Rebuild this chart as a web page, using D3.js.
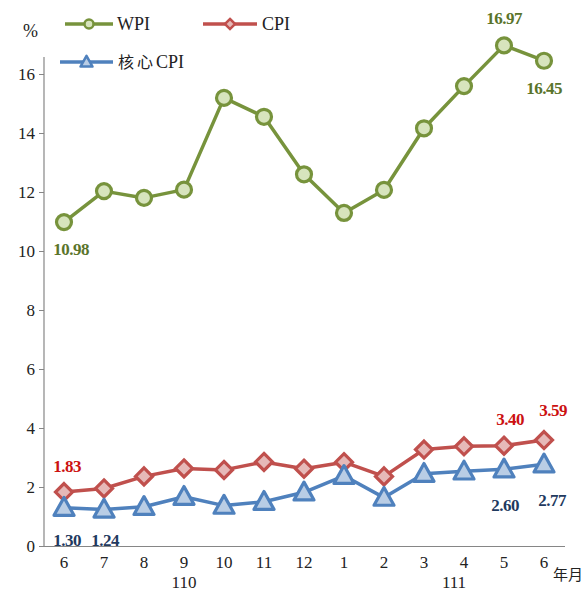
<!DOCTYPE html>
<html><head><meta charset="utf-8">
<script src="https://cdn.jsdelivr.net/npm/d3@7"></script>
<style>
html,body{margin:0;padding:0;background:#fff;}
svg{display:block;font-family:"Liberation Serif","Times New Roman",serif;}
</style>
</head><body>
<svg id="c" width="587" height="592"></svg>
<script>
const months = ["6","7","8","9","10","11","12","1","2","3","4","5","6"];
const years = [{label:"110", from:0, to:6},{label:"111", from:7, to:12}];
const wpi  = [10.98,12.03,11.80,12.08,15.19,14.55,12.60,11.29,12.07,14.16,15.59,16.97,16.45];
const cpi  = [1.83,1.95,2.36,2.63,2.58,2.85,2.62,2.84,2.36,3.27,3.38,3.40,3.59];
const core = [1.30,1.24,1.33,1.67,1.37,1.50,1.82,2.38,1.64,2.45,2.53,2.60,2.77];
const yTicks = [0,2,4,6,8,10,12,14,16];
const wpiLabels  = [{i:0,dx:7,dy:33},{i:11,dx:0,dy:-21},{i:12,dx:0,dy:33}];
const cpiLabels  = [{i:0,dx:3,dy:-20},{i:11,dx:6,dy:-21},{i:12,dx:9,dy:-24}];
const coreLabels = [{i:0,dx:3,dy:38},{i:1,dx:1,dy:37},{i:11,dx:1,dy:42},{i:12,dx:8,dy:42}];

const svg = d3.select("#c");
const x = d3.scaleBand().domain(d3.range(months.length)).range([44,564]).paddingInner(0).paddingOuter(0);
const cx = i => x(i) + x.bandwidth()/2;
const y = d3.scaleLinear().domain([0,16]).range([546,74]);

// axes
const yAxis = d3.axisLeft(y).tickValues(yTicks).tickSize(5).tickPadding(4).tickFormat(d3.format("d"));
const gy = svg.append("g").attr("transform","translate(44,0)").call(yAxis);
gy.select(".domain").remove();
gy.selectAll("line").attr("stroke","#868686");
gy.selectAll("text").attr("font-size",17).attr("fill","#222").attr("font-family","Liberation Serif, serif");
svg.append("line").attr("x1",44).attr("x2",44).attr("y1",57).attr("y2",546).attr("stroke","#868686").attr("stroke-width",1.2);

const xAxis = d3.axisBottom(x).tickSize(0).tickPadding(10).tickFormat(i => months[i]);
const gx = svg.append("g").attr("transform","translate(0,546)").call(xAxis);
gx.select(".domain").attr("stroke","#868686").attr("stroke-width",1.2).attr("d","M44,0.5H565");
gx.selectAll("text").attr("font-size",17).attr("fill","#222").attr("font-family","Liberation Serif, serif");

years.forEach(yr => {
  svg.append("text").attr("x",(cx(yr.from)+cx(yr.to))/2 + (yr.label==="111"? 10:0)).attr("y",588)
    .attr("text-anchor","middle").attr("font-size",17).attr("fill","#222").text(yr.label);
});
svg.append("text").attr("x",553).attr("y",580).attr("font-size",15).attr("fill","#222")
  .attr("font-family","Noto Sans CJK TC, sans-serif").text("年月");
svg.append("text").attr("x",23).attr("y",37).attr("font-size",18).attr("fill","#222").text("%");

const series = [
  {name:"WPI", data:wpi, line:"#77933C", fill:"#D7E4BD", mark:"circle", lab:wpiLabels, labColor:"#5A742B"},
  {name:"CPI", data:cpi, line:"#C0504D", fill:"#E6B9B8", mark:"diamond", lab:cpiLabels, labColor:"#CC1111"},
  {name:"核心CPI", data:core, line:"#4F81BD", fill:"#B9CDE5", mark:"triangle", lab:coreLabels, labColor:"#1F3A5F"}
];

function marker(g, type, px, py, s){
  const sc = s||1;
  if(type==="circle"){
    g.append("circle").attr("cx",px).attr("cy",py).attr("r",7.5*sc);
  } else if(type==="diamond"){
    const r=8.5*sc;
    g.append("path").attr("d",`M${px},${py-r}L${px+r},${py}L${px},${py+r}L${px-r},${py}Z`);
  } else {
    const h=17*sc, w=20*sc;
    g.append("path").attr("d",`M${px},${py-h*0.6}L${px+w/2},${py+h*0.45}L${px-w/2},${py+h*0.45}Z`).attr("stroke-linejoin","round");
  }
}

const line = d3.line().x((d,i)=>cx(i)).y(d=>y(d));
series.forEach(s => {
  svg.append("path").datum(s.data).attr("d",line).attr("fill","none")
    .attr("stroke",s.line).attr("stroke-width",3.5).attr("stroke-linejoin","round");
  const g = svg.append("g").attr("fill",s.fill).attr("stroke",s.line).attr("stroke-width",3.2);
  s.data.forEach((v,i)=>marker(g,s.mark,cx(i),y(v)));
  s.lab.forEach(l => {
    svg.append("text").attr("x",cx(l.i)+l.dx).attr("y",y(s.data[l.i])+l.dy)
      .attr("text-anchor","middle").attr("font-size",17).attr("font-weight","bold")
      .attr("fill",s.labColor).attr("letter-spacing","-0.5").text(s.data[l.i].toFixed(2));
  });
});

// legend
const legend = [
  {s:series[0], x1:65, x2:113, y:24, tx:117},
  {s:series[1], x1:203, x2:257, y:24, tx:262},
  {s:series[2], x1:60, x2:113, y:62, tx:118}
];
legend.forEach(l => {
  svg.append("line").attr("x1",l.x1).attr("x2",l.x2).attr("y1",l.y).attr("y2",l.y)
    .attr("stroke",l.s.line).attr("stroke-width",3.5);
  const g = svg.append("g").attr("fill",l.s.fill).attr("stroke",l.s.line).attr("stroke-width",2.5);
  marker(g,l.s.mark,(l.x1+l.x2)/2,l.y,0.6);
  const t = svg.append("text").attr("x",l.tx).attr("y",l.y+6).attr("font-size",18).attr("fill","#222");
  if(l.s.name==="核心CPI"){
    t.append("tspan").attr("font-family","Noto Sans CJK TC, sans-serif").attr("font-size",16).attr("letter-spacing","3").text("核心");
    t.append("tspan").text("CPI");
  } else t.text(l.s.name);
});
</script>
</body></html>
